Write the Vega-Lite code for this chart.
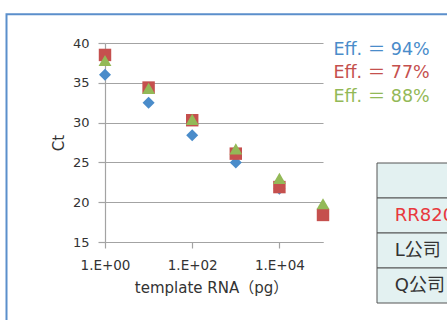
{
  "$schema": "https://vega.github.io/schema/vega-lite/v6.json",
  "width": 218,
  "height": 199,
  "autosize": {"type": "none"},
  "padding": {"left": 105, "top": 43, "right": 124, "bottom": 78},
  "background": "white",
  "config": {
    "view": {"stroke": null},
    "font": "DejaVu Sans, Noto Sans CJK JP, sans-serif"
  },
  "layer": [
    {
      "data": {"values": [{"frame": "box"}]},
      "mark": {"type": "rect", "fill": "transparent", "stroke": "#5b8fcb", "strokeWidth": 2},
      "encoding": {
        "x": {"datum": 0, "type": "quantitative", "scale": {"domain": [0, 1], "range": [-98.5, 360]}, "axis": null},
        "x2": {"datum": 1},
        "y": {"datum": 0, "type": "quantitative", "scale": {"domain": [0, 1], "range": [-28.7, 300]}, "axis": null},
        "y2": {"datum": 1}
      }
    },
    {
      "data": {"values": [
        {"row": "h", "name": ""},
        {"row": "a", "name": "RR820"},
        {"row": "b", "name": "L公司"},
        {"row": "c", "name": "Q公司"}
      ]},
      "layer": [
        {
          "mark": {"type": "rect", "fill": "#e3f1f1", "stroke": "#555555", "strokeWidth": 1},
          "encoding": {
            "x": {"datum": 0, "type": "quantitative", "scale": {"domain": [0, 1], "range": [272, 420]}, "axis": null},
            "x2": {"datum": 1},
            "y": {"field": "row", "type": "nominal", "sort": null, "scale": {"type": "band", "domain": ["h", "a", "b", "c"], "range": [120, 260], "paddingInner": 0, "paddingOuter": 0}, "axis": null}
          }
        },
        {
          "mark": {"type": "text", "align": "left", "baseline": "middle", "fontSize": 18},
          "encoding": {
            "x": {"datum": 0.12, "type": "quantitative", "scale": {"domain": [0, 1], "range": [272, 420]}, "axis": null},
            "y": {"field": "row", "type": "nominal", "sort": null, "scale": {"type": "band", "domain": ["h", "a", "b", "c"], "range": [120, 260], "paddingInner": 0, "paddingOuter": 0}, "axis": null},
            "text": {"field": "name"},
            "color": {"condition": {"test": "datum.name === 'RR820'", "value": "#e8383d"}, "value": "#333333"}
          }
        }
      ],
      "resolve": {"scale": {"x": "shared", "y": "shared"}}
    },
    {
      "data": {"values": [
        {"pg": 1, "ct": 36.0, "series": "Eff. ＝ 94%"},
        {"pg": 10, "ct": 32.5, "series": "Eff. ＝ 94%"},
        {"pg": 100, "ct": 28.4, "series": "Eff. ＝ 94%"},
        {"pg": 1000, "ct": 25.0, "series": "Eff. ＝ 94%"},
        {"pg": 10000, "ct": 21.7, "series": "Eff. ＝ 94%"},
        {"pg": 100000, "ct": 18.9, "series": "Eff. ＝ 94%"},
        {"pg": 1, "ct": 38.5, "series": "Eff. ＝ 77%"},
        {"pg": 10, "ct": 34.4, "series": "Eff. ＝ 77%"},
        {"pg": 100, "ct": 30.3, "series": "Eff. ＝ 77%"},
        {"pg": 1000, "ct": 26.1, "series": "Eff. ＝ 77%"},
        {"pg": 10000, "ct": 21.9, "series": "Eff. ＝ 77%"},
        {"pg": 100000, "ct": 18.4, "series": "Eff. ＝ 77%"},
        {"pg": 1, "ct": 37.8, "series": "Eff. ＝ 88%"},
        {"pg": 10, "ct": 34.3, "series": "Eff. ＝ 88%"},
        {"pg": 100, "ct": 30.4, "series": "Eff. ＝ 88%"},
        {"pg": 1000, "ct": 26.7, "series": "Eff. ＝ 88%"},
        {"pg": 10000, "ct": 23.0, "series": "Eff. ＝ 88%"},
        {"pg": 100000, "ct": 19.8, "series": "Eff. ＝ 88%"}
      ]},
      "mark": {"type": "point", "filled": true, "opacity": 1},
      "encoding": {
        "x": {
          "field": "pg", "type": "quantitative",
          "scale": {"type": "log", "domain": [1, 100000], "nice": false},
          "axis": {
            "values": [1, 100, 10000],
            "labelExpr": "'1.E+0' + round(log(datum.value) / LN10)",
            "labelFlush": false, "labelDx": -3,
            "grid": false,
            "domain": true, "domainColor": "#a3a3a3", "domainWidth": 1.2,
            "ticks": true, "tickColor": "#a3a3a3", "tickSize": 6, "tickWidth": 1.2,
            "labelFontSize": 13.5, "labelColor": "#333333", "labelPadding": 10,
            "title": "template RNA（pg）", "titleFontSize": 15, "titleFontWeight": "normal", "titleColor": "#333333", "titlePadding": 9, "titleX": 106
          }
        },
        "y": {
          "field": "ct", "type": "quantitative",
          "scale": {"domain": [15, 40], "nice": false, "zero": false},
          "axis": {
            "values": [15, 20, 25, 30, 35, 40],
            "grid": true, "gridColor": "#a3a3a3", "gridWidth": 1.2,
            "domain": true, "domainColor": "#a3a3a3", "domainWidth": 1.2,
            "ticks": true, "tickColor": "#a3a3a3", "tickSize": 7, "tickWidth": 1.2,
            "labelFontSize": 13, "labelColor": "#333333", "labelPadding": 9,
            "title": "Ct", "titleFontSize": 15, "titleFontWeight": "normal", "titleColor": "#333333", "titlePadding": 6
          }
        },
        "color": {
          "field": "series", "type": "nominal",
          "scale": {"domain": ["Eff. ＝ 94%", "Eff. ＝ 77%", "Eff. ＝ 88%"], "range": ["#4a8cca", "#c5504e", "#93b957"]},
          "legend": {
            "orient": "none", "legendX": 211, "legendY": -2,
            "title": null, "padding": 0,
            "symbolOpacity": 0, "symbolSize": 0, "symbolStrokeWidth": 0,
            "labelOffset": 0, "labelFontSize": 17.5, "rowPadding": 4.5,
            "encode": {"labels": {"update": {"fill": {"scale": "color", "field": "value"}}}}
          }
        },
        "shape": {
          "field": "series", "type": "nominal",
          "scale": {"domain": ["Eff. ＝ 94%", "Eff. ＝ 77%", "Eff. ＝ 88%"], "range": ["diamond", "square", "triangle-up"]},
          "legend": null
        },
        "size": {
          "field": "series", "type": "nominal",
          "scale": {"domain": ["Eff. ＝ 94%", "Eff. ＝ 77%", "Eff. ＝ 88%"], "range": [145, 165, 210]},
          "legend": null
        }
      }
    }
  ],
  "resolve": {"scale": {"x": "independent", "y": "independent"}}
}
